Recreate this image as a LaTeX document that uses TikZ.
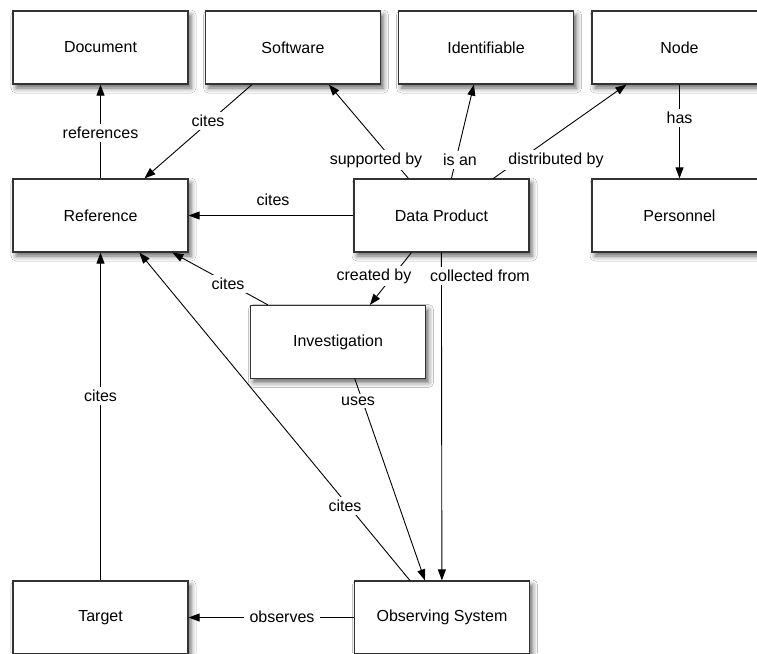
\documentclass[tikz,border=0pt]{standalone}
\usepackage{fontspec}
\setmainfont{Liberation Sans}
\usetikzlibrary{arrows.meta,calc,shadows.blur}
\begin{document}
\begin{tikzpicture}[x=1pt,y=-1pt,
  box/.style={draw=black!80,line width=1.2pt,fill=white,minimum width=175pt,minimum height=73pt,
    font=\fontsize{16}{19}\selectfont,inner sep=0pt,
    blur shadow={shadow xshift=3pt,shadow yshift=-4pt,shadow blur radius=5pt,shadow opacity=60}},
  conn/.style={draw=black,line width=0.9pt,-{Triangle[length=11pt,width=8pt]}},
  lab/.style={fill=white,inner xsep=6pt,inner ysep=3pt,font=\fontsize{16}{19}\selectfont},
  labnf/.style={inner sep=1.5pt,font=\fontsize{16}{19}\selectfont}]
\useasboundingbox (0,0) rectangle (757,653);
\clip (0,0) rectangle (757,653);
\fill[white] (0,0) rectangle (757,653);
% nodes
\node[box] (doc) at (100.5,47.5) {Document};
\node[box] (sw) at (293,47.5) {Software};
\node[box] (id) at (486,47.5) {Identifiable};
\node[box] (nd) at (679.5,47.5) {Node};
\node[box] (ref) at (100.5,215.5) {Reference};
\node[box] (dp) at (441.5,215.5) {Data Product};
\node[box] (pers) at (679.5,215.5) {Personnel};
\node[box] (inv) at (338,342) {Investigation};
\node[box] (tgt) at (100.5,617.5) {Target};
\node[box] (os) at (442,617.5) {Observing System};
% connectors
\draw[conn] (ref.north) -- (doc.south);
\node[lab] (l1) at (100.5,133) {references};
\draw[conn] ($(sw.south west)+(47,0)$) -- ($(ref.north west)+(132,0)$);
\node[lab] (l2) at (208,121) {cites};
\draw[conn] (dp.west) -- (ref.east);
\node[labnf] (l3) at (273,200) {cites};
\draw[conn] ($(dp.north west)+(55,0)$) -- ($(sw.south west)+(124,0)$);
\node[lab] (l4) at (376,160) {supported by};
\draw[conn] ($(dp.north west)+(98,0)$) -- ($(id.south west)+(76,0)$);
\node[lab] (l5) at (460,160) {is an};
\draw[conn] ($(dp.north west)+(140,0)$) -- ($(nd.south west)+(35,0)$);
\node[lab] (l6) at (556,160) {distributed by};
\draw[conn] (nd.south) -- (pers.north);
\node[lab] (l7) at (679.5,118) {has};
\draw[conn] ($(dp.south west)+(58,0)$) -- ($(inv.north west)+(120,0)$);
\node[lab] (l8) at (374,276) {created by};
\draw[conn] ($(dp.south west)+(88,0)$) -- ($(os.north west)+(88,0)$);
\node[lab] (l9) at (480,276) {collected from};
\draw[conn] ($(inv.north west)+(18,0)$) -- ($(ref.south west)+(160,0)$);
\node[lab] (l10) at (228,284) {cites};
\draw[conn] (tgt.north) -- (ref.south);
\node[lab] (l11) at (100.5,396) {cites};
\draw[conn] ($(os.north west)+(56,0)$) -- ($(ref.south west)+(127,0)$);
\node[lab] (l12) at (345,506) {cites};
\draw[conn] ($(inv.south west)+(105,0)$) -- ($(os.north west)+(71,0)$);
\node[lab] (l13) at (358,401) {uses};
\draw[conn] (os.west) -- (tgt.east);
\node[lab] (l14) at (282,617) {observes};
\end{tikzpicture}
\end{document}
